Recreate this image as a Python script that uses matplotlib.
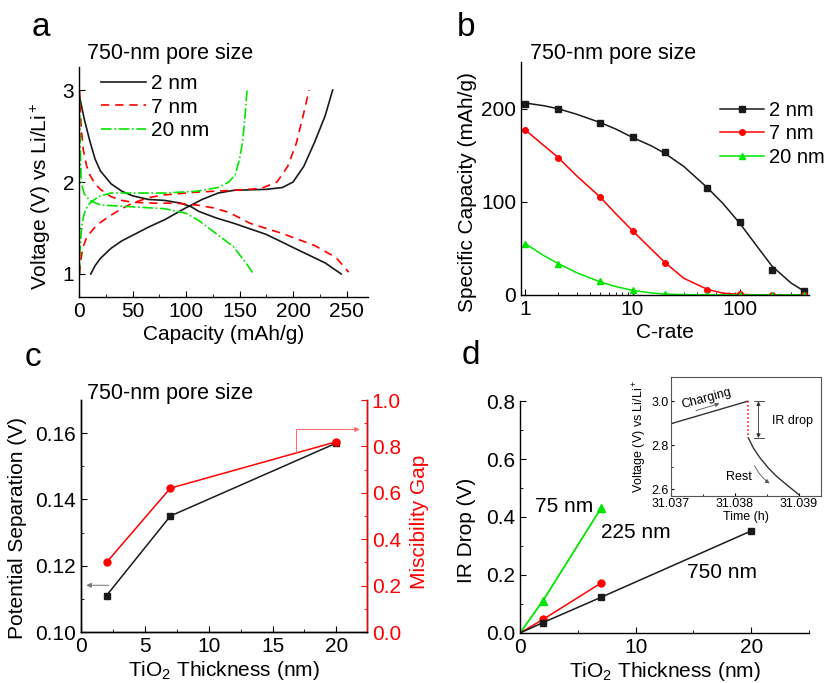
import matplotlib
matplotlib.use('Agg')
import matplotlib.pyplot as plt
from matplotlib.lines import Line2D
import numpy as np

plt.rcParams.update({
    'font.family': ['Liberation Sans', 'DejaVu Sans'],
    'mathtext.fontset': 'custom',
    'mathtext.rm': 'Liberation Sans',
    'mathtext.it': 'Liberation Sans:italic',
    'mathtext.default': 'regular',
    'font.size': 15,
    'axes.linewidth': 1.0,
    'xtick.direction': 'in',
    'ytick.direction': 'in',
    'xtick.major.size': 4,
    'ytick.major.size': 4,
    'xtick.minor.size': 2.5,
    'ytick.minor.size': 2.5,
})

# (a) charge / discharge profiles, capacity in mAh/g, voltage in V
cap_dis_2 = [0.5, 5, 10, 15, 20, 30, 40, 50, 65, 80, 95, 105, 112, 128, 145, 175, 205, 230, 245]
v_dis_2 = [2.93, 2.68, 2.45, 2.25, 2.12, 1.98, 1.90, 1.85, 1.81, 1.80, 1.77, 1.73, 1.68, 1.61, 1.55, 1.43, 1.26, 1.12, 1.0]
cap_chg_2 = [11, 15, 20, 30, 40, 50, 65, 80, 100, 115, 130, 145, 160, 175, 190, 200, 210, 220, 230, 237]
v_chg_2 = [1.0, 1.09, 1.17, 1.28, 1.36, 1.42, 1.51, 1.59, 1.72, 1.81, 1.88, 1.91, 1.915, 1.92, 1.94, 2.0, 2.17, 2.43, 2.72, 3.0]

cap_dis_7 = [0.5, 2, 4, 7, 10, 15, 20, 30, 40, 50, 70, 90, 110, 125, 140, 160, 190, 220, 240, 252]
v_dis_7 = [3.0, 2.6, 2.35, 2.18, 2.08, 1.98, 1.92, 1.84, 1.80, 1.78, 1.77, 1.77, 1.75, 1.72, 1.67, 1.55, 1.44, 1.31, 1.18, 1.02]
cap_chg_7 = [0.5, 2, 4, 7, 10, 15, 20, 30, 40, 50, 65, 80, 110, 145, 170, 185, 195, 203, 210, 215]
v_chg_7 = [1.0, 1.18, 1.3, 1.39, 1.44, 1.51, 1.56, 1.64, 1.71, 1.77, 1.83, 1.86, 1.89, 1.91, 1.93, 2.0, 2.17, 2.42, 2.75, 3.0]

cap_dis_20 = [0.3, 1, 1.5, 2, 3, 5, 10, 20, 35, 50, 80, 100, 112, 128, 144, 156, 163]
v_dis_20 = [2.92, 2.5, 2.2, 2.05, 1.95, 1.87, 1.80, 1.75, 1.74, 1.73, 1.71, 1.66, 1.58, 1.44, 1.30, 1.12, 1.0]
cap_chg_20 = [0.3, 1, 2, 3, 5, 8, 12, 20, 30, 50, 80, 110, 130, 140, 146, 150, 153, 155, 157]
v_chg_20 = [1.0, 1.25, 1.44, 1.56, 1.66, 1.74, 1.79, 1.85, 1.88, 1.88, 1.88, 1.90, 1.94, 2.0, 2.08, 2.25, 2.45, 2.7, 3.0]

# (b) rate capability: measured points and fitted curves
c_rate = [1, 2, 5, 10, 20, 50, 100, 200, 400]
spec_cap_2 = [205, 200, 185, 169, 153, 115, 78, 27, 4]
spec_cap_7 = [177, 147, 105, 69, 34, 5, 1, 0.5, 0.5]
spec_cap_20 = [55, 33, 15, 5, 1, 0.5, 0.5, 0.5, 0.5]

c_fit = [1, 1.5, 2, 3, 5, 7, 10, 15, 20, 30, 50, 70, 100, 150, 200, 300, 400]
fit_2 = [206, 203, 200, 194, 185, 178, 169, 160, 152, 138, 115, 98, 77, 50, 31, 13, 4]
fit_7 = [177, 160, 148, 128, 105, 87, 69, 49, 35, 18, 6, 2, 0.6, 0.2, 0.1, 0.1, 0.1]
fit_20 = [55, 42, 34, 24, 14, 9, 5, 2.2, 1, 0.4, 0.2, 0.1, 0.1, 0.1, 0.1, 0.1, 0.1]

# (c) potential separation and miscibility gap vs TiO2 thickness
thick_c = [2, 7, 20]
pot_sep = [0.111, 0.135, 0.157]
misc_gap = [0.30, 0.62, 0.82]

# (d) IR drop vs TiO2 thickness for three pore sizes
thick_75 = [0, 2, 7]
ir_75 = [0, 0.112, 0.43]
thick_225 = [0, 2, 7]
ir_225 = [0, 0.047, 0.172]
thick_750 = [0, 2, 7, 20]
ir_750 = [0, 0.036, 0.123, 0.352]

# inset: voltage trace around the end of charging
t_chg = [31.037, 31.03820]
v_chg = [2.898, 3.0]
t_rest = [31.038213, 31.038292, 31.038397, 31.038528, 31.038659, 31.038816, 31.038999]
v_rest = [2.833, 2.787, 2.742, 2.696, 2.658, 2.620, 2.577]

W, H = 828, 683
fig = plt.figure(figsize=(W / 100, H / 100), dpi=100)


def box(x0, y0, x1, y1):
    # pixel box -> figure fraction rect
    return [x0 / W, 1 - y1 / H, (x1 - x0) / W, (y1 - y0) / H]


black, red, green = '#1a1a1a', '#ff0000', '#00e600'
leg_kw = dict(bbox_transform=fig.transFigure, loc='upper left', frameon=False,
              borderpad=0, borderaxespad=0, handlelength=2.15,
              handletextpad=0.25, labelspacing=0.22, fontsize=15)

# ---------------- a ----------------
ax_a = fig.add_axes(box(79, 67, 368, 297))
ax_a.plot(cap_dis_2, v_dis_2, '-', color=black, lw=1.2, label='2 nm')
ax_a.plot(cap_chg_2, v_chg_2, '-', color=black, lw=1.2)
ax_a.plot(cap_dis_7, v_dis_7, '--', color=red, lw=1.2, label='7 nm', dashes=(5, 3.5))
ax_a.plot(cap_chg_7, v_chg_7, '--', color=red, lw=1.2, dashes=(5, 3.5))
ax_a.plot(cap_dis_20, v_dis_20, '-.', color=green, lw=1.2, label='20 nm')
ax_a.plot(cap_chg_20, v_chg_20, '-.', color=green, lw=1.2)
ax_a.set_xlim(0, 270)
ax_a.set_ylim(0.75, 3.25)
ax_a.set_xticks([0, 50, 100, 150, 200, 250])
ax_a.set_xticks(np.arange(25, 270, 50), minor=True)
ax_a.set_yticks([1, 2, 3])
ax_a.set_yticks([1.5, 2.5], minor=True)
for s in ['top', 'right']:
    ax_a.spines[s].set_visible(False)
ax_a.set_xlabel('Capacity (mAh/g)')
ax_a.xaxis.set_label_coords(0.5, -0.12)
ax_a.set_ylabel('Voltage (V) vs Li/Li$^+$')
ax_a.yaxis.set_label_coords(-0.09, 0.44)
ax_a.legend(bbox_to_anchor=(101 / W, 1 - 74 / H), **leg_kw)

# ---------------- b ----------------
ax_b = fig.add_axes(box(521, 62, 809, 295))
ax_b.semilogx(c_fit, fit_2, '-', color=black, lw=1.1)
ax_b.semilogx(c_fit, fit_7, '-', color=red, lw=1.1)
ax_b.semilogx(c_fit, fit_20, '-', color=green, lw=1.1)
ax_b.semilogx(c_rate, spec_cap_2, 's', color=black, ms=4)
ax_b.semilogx(c_rate, spec_cap_7, 'o', color=red, ms=4)
ax_b.semilogx(c_rate, spec_cap_20, '^', color=green, ms=4.5)
ax_b.set_xlim(0.91, 443)
ax_b.set_ylim(0, 250)
ax_b.set_yticks([0, 100, 200])
ax_b.set_xticks([1, 10, 100])
ax_b.set_xticklabels(['1', '10', '100'])
for s in ['top', 'right']:
    ax_b.spines[s].set_visible(False)
ax_b.set_xlabel('C-rate')
ax_b.xaxis.set_label_coords(0.5, -0.12)
ax_b.set_ylabel('Specific Capacity (mAh/g)')
ax_b.yaxis.set_label_coords(-0.152, 0.44)
handles_b = [Line2D([], [], color=black, marker='s', ms=4, lw=1.1),
             Line2D([], [], color=red, marker='o', ms=4, lw=1.1),
             Line2D([], [], color=green, marker='^', ms=4.5, lw=1.1)]
leg_kw_b = dict(leg_kw, fontsize=14.5, handlelength=2.2)
ax_b.legend(handles_b, ['2 nm', '7 nm', '20 nm'],
            bbox_to_anchor=(720 / W, 1 - 101 / H), **leg_kw_b)

# ---------------- c ----------------
ax_c = fig.add_axes(box(81, 400, 367, 632))
ax_c.plot(thick_c, pot_sep, '-s', color=black, lw=1.1, ms=5)
ax_c.set_xlim(0, 22.4)
ax_c.set_ylim(0.10, 0.17)
ax_c.set_xticks([0, 5, 10, 15, 20])
ax_c.set_xticks([2.5, 7.5, 12.5, 17.5], minor=True)
ax_c.set_yticks([0.10, 0.12, 0.14, 0.16])
ax_c.set_yticks([0.11, 0.13, 0.15], minor=True)
ax_c.spines['top'].set_visible(False)
ax_c.set_xlabel('TiO$_2$ Thickness (nm)')
ax_c.xaxis.set_label_coords(0.5, -0.115)
ax_c.set_ylabel('Potential Separation (V)')
ax_c.yaxis.set_label_coords(-0.19, 0.45)
ax_c.annotate('', xy=(0.2, 0.1141), xytext=(2.4, 0.1141),
              arrowprops=dict(arrowstyle='-|>', color='0.45', lw=0.7,
                              mutation_scale=7))

ax_c2 = ax_c.twinx()
ax_c2.plot(thick_c, misc_gap, '-o', color=red, lw=1.1, ms=5)
ax_c2.set_ylim(0, 1.0)
ax_c2.set_yticks([0, 0.2, 0.4, 0.6, 0.8, 1.0])
ax_c2.set_yticklabels(['0.0', '0.2', '0.4', '0.6', '0.8', '1.0'])
ax_c2.set_yticks(np.arange(0.1, 1.0, 0.2), minor=True)
ax_c2.spines['top'].set_visible(False)
ax_c2.spines['right'].set_color(red)
ax_c2.tick_params(axis='y', which='both', colors=red)
ax_c2.set_ylabel('Miscibility Gap', color=red)
ax_c2.yaxis.set_label_coords(1.15, 0.475)
ax_c2.plot([16.86, 16.86, 21.6], [0.777, 0.873, 0.873], color='#ff6666', lw=0.7)
ax_c2.annotate('', xy=(22.05, 0.873), xytext=(21.4, 0.873),
               arrowprops=dict(arrowstyle='-|>', color='#ff6666', lw=0.7,
                               mutation_scale=7))

# ---------------- d ----------------
ax_d = fig.add_axes(box(520, 401, 809, 633))
ax_d.plot(thick_75, ir_75, '-^', color=green, lw=1.3, ms=6, markevery=slice(1, None))
ax_d.plot(thick_225, ir_225, '-o', color=red, lw=1.1, ms=5, markevery=slice(1, None))
ax_d.plot(thick_750, ir_750, '-s', color=black, lw=1.1, ms=4.5, markevery=slice(1, None))
ax_d.set_xlim(0, 25)
ax_d.set_ylim(0, 0.8)
ax_d.set_xticks([0, 10, 20])
ax_d.set_xticks([5, 15, 25], minor=True)
ax_d.set_yticks([0, 0.2, 0.4, 0.6, 0.8])
ax_d.set_yticklabels(['0.0', '0.2', '0.4', '0.6', '0.8'])
ax_d.set_yticks([0.1, 0.3, 0.5, 0.7], minor=True)
for s in ['top', 'right']:
    ax_d.spines[s].set_visible(False)
ax_d.set_xlabel('TiO$_2$ Thickness (nm)')
ax_d.xaxis.set_label_coords(0.5, -0.115)
ax_d.set_ylabel('IR Drop (V)')
ax_d.yaxis.set_label_coords(-0.152, 0.444)
ax_d.text(3.8, 0.436, '75 nm', ha='center', va='center')
ax_d.text(10.0, 0.347, '225 nm', ha='center', va='center')
ax_d.text(17.5, 0.209, '750 nm', ha='center', va='center')

# inset
ax_i = fig.add_axes(box(671, 377, 821, 496))
ax_i.plot(t_chg, v_chg, color='#333333', lw=1.0)
ax_i.plot(t_rest, v_rest, color='#333333', lw=1.0)
ax_i.plot([t_chg[-1], t_chg[-1]], [v_chg[-1], v_rest[0]], ':', color=red, lw=1.1)
ax_i.set_xlim(31.037, 31.03935)
ax_i.set_ylim(2.57, 3.11)
ax_i.set_xticks([31.037, 31.038, 31.039])
ax_i.set_xticklabels(['31.037', '31.038', '31.039'])
ax_i.set_xticks([31.0375, 31.0385], minor=True)
ax_i.set_yticks([2.6, 2.8, 3.0])
ax_i.set_yticks([2.7, 2.9], minor=True)
ax_i.tick_params(labelsize=9, pad=1.5, length=2.5)
ax_i.tick_params(which='minor', length=1.5)
for s in ax_i.spines.values():
    s.set_color('#555555')
    s.set_linewidth(0.8)
ax_i.set_xlabel('Time (h)', fontsize=9, labelpad=1)
ax_i.set_ylabel('Voltage (V) vs Li/Li$^+$', fontsize=9, labelpad=2)
ax_i.text(31.03756, 3.013, 'Charging', fontsize=9, rotation=15,
          ha='center', va='center')
ax_i.annotate('', xy=(31.0378, 2.993), xytext=(31.03735, 2.954),
              arrowprops=dict(arrowstyle='-|>', color='#555555', lw=0.6,
                              mutation_scale=6))
ax_i.annotate('', xy=(31.03837, v_rest[0]), xytext=(31.03837, 3.0),
              arrowprops=dict(arrowstyle='<|-|>', color='#333333', lw=0.6,
                              mutation_scale=6, shrinkA=0, shrinkB=0))
ax_i.plot([31.0383, 31.03845], [3.0, 3.0], color='#333333', lw=0.6)
ax_i.plot([31.0383, 31.03845], [v_rest[0], v_rest[0]], color='#333333', lw=0.6)
ax_i.text(31.03891, 2.909, 'IR drop', fontsize=9, ha='center', va='center')
ax_i.text(31.03806, 2.655, 'Rest', fontsize=9, ha='center', va='center')
ax_i.annotate('', xy=(31.03858, 2.62), xytext=(31.03829, 2.719),
              arrowprops=dict(arrowstyle='-|>', color='#555555', lw=0.6,
                              mutation_scale=6,
                              connectionstyle='arc3,rad=0.15'))

# panel titles and letters
for x, y in [(87, 53), (530, 53), (87, 393)]:
    fig.text(x / W, 1 - y / H, '750-nm pore size', fontsize=15.5,
             ha='left', va='center')
for lab, x, y in [('a', 41, 28), ('b', 466, 28), ('c', 33, 358), ('d', 471, 355)]:
    fig.text(x / W, 1 - y / H, lab, fontsize=24, ha='center', va='center')

fig.savefig('out.png', dpi=100)
